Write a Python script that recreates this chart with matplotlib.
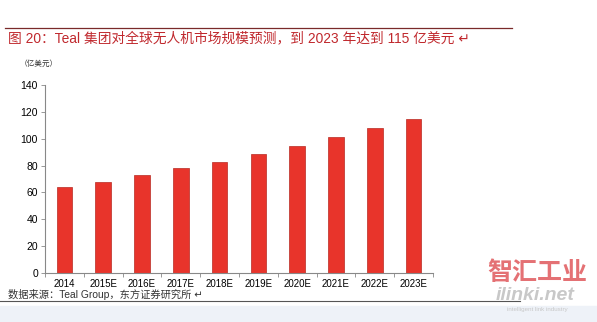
import matplotlib.pyplot as plt
from matplotlib.lines import Line2D
from matplotlib.patches import Rectangle
import numpy as np

plt.rcParams['font.family'] = ['Liberation Sans', 'Noto Sans CJK SC', 'DejaVu Sans']

years = ["2014", "2015E", "2016E", "2017E", "2018E", "2019E", "2020E", "2021E", "2022E", "2023E"]
market = [64, 68, 73, 78, 83, 88.5, 94.5, 101, 108, 115]
yticks = [0, 20, 40, 60, 80, 100, 120, 140]

W, H = 597, 322
fig = plt.figure(figsize=(W / 100, H / 100), dpi=100)

# light band at the very bottom
fig.patches.append(Rectangle((0, 0), 1, 16 / H, transform=fig.transFigure,
                             color='#eef2f8', zorder=0))

# rules above and below the chart
fig.add_artist(Line2D([5 / W, 512 / W], [1 - 28 / H, 1 - 28 / H], color='#7a2a2a', lw=0.9))
fig.add_artist(Line2D([0, 520 / W], [1 - 301 / H, 1 - 301 / H], color='#555555', lw=0.8))

fig.text(8 / W, 1 - 38 / H,
         "图 20：Teal 集团对全球无人机市场规模预测，到 2023 年达到 115 亿美元 ↵",
         color='#c0282d', fontsize=9.9, va='center', ha='left')
fig.text(20 / W, 1 - 64 / H, "（亿美元）", color='#333333', fontsize=5.5, va='center')
fig.text(8 / W, 1 - 294 / H, "数据来源：Teal Group，东方证券研究所 ↵", color='#333333',
         fontsize=7.4, va='center')

# watermark
fig.text(537 / W, 1 - 273 / H, "智汇工业", color='#e0585c', fontsize=18,
         ha='center', va='center', fontweight='bold', alpha=0.85)
fig.text(535 / W, 1 - 295 / H, "ilinki.net", color='#c8c8c8', fontsize=14,
         ha='center', va='center', style='italic', fontweight='bold')
fig.text(537 / W, 1 - 310 / H, "intelligent link industry", color='#c8c8c8', fontsize=4.5,
         ha='center', va='center')

ax = fig.add_axes([45 / W, 49 / H, (433 - 45) / W, (273 - 85) / H])
x = np.arange(len(years))
ax.bar(x, market, width=0.4, color='#e8342b', edgecolor='#b82a22', linewidth=0.5)

ax.set_xlim(-0.5, len(years) - 0.5)
ax.set_ylim(0, 140)
ax.set_yticks(yticks)
ax.tick_params(axis='y', labelsize=7.5, length=3, width=0.6, color='#888888', pad=2)

ax.set_xticks(np.arange(len(years) + 1) - 0.5)
ax.set_xticklabels([])
ax.tick_params(axis='x', which='major', length=3, width=0.6, color='#888888', direction='out')
ax.set_xticks(x, minor=True)
ax.set_xticklabels(years, minor=True)
ax.tick_params(axis='x', which='minor', length=0, labelsize=7, pad=4)

for s in ['top', 'right']:
    ax.spines[s].set_visible(False)
for s in ['left', 'bottom']:
    ax.spines[s].set_color('#888888')
    ax.spines[s].set_linewidth(0.8)

fig.savefig('out.png', dpi=100)
